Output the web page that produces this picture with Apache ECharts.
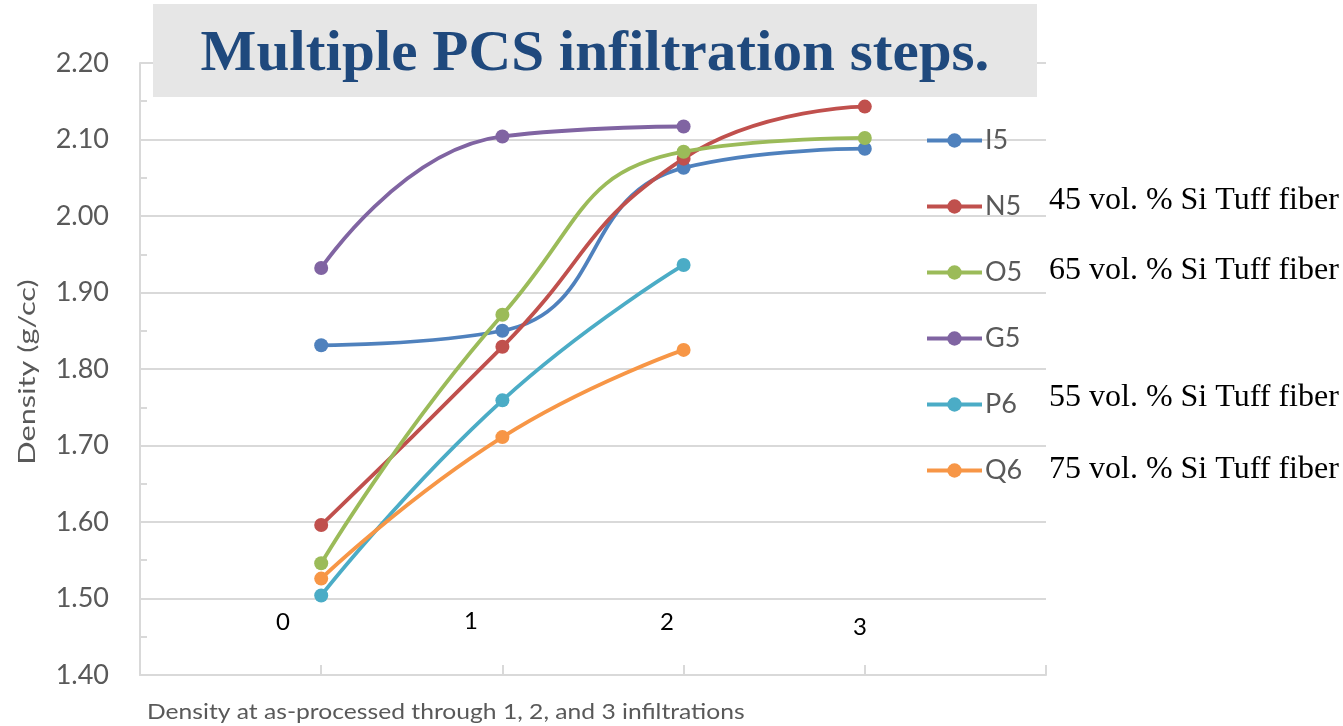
<!DOCTYPE html>
<html>
<head>
<meta charset="utf-8">
<script src="https://cdn.jsdelivr.net/npm/echarts@6/dist/echarts.min.js"></script>
<style>html,body{margin:0;padding:0;background:#fff;}#chart{width:1343px;height:726px;}</style>
</head>
<body>
<div id="chart"></div>
<script>
// x positions: infiltration step (0..3)
const steps = [0, 1, 2, 3];
const seriesNames = ['I5', 'N5', 'O5', 'G5', 'P6', 'Q6'];
const I5 = [1.831, 1.850, 2.063, 2.088];
const N5 = [1.596, 1.829, 2.075, 2.143];
const O5 = [1.546, 1.871, 2.084, 2.102];
const G5 = [1.932, 2.104, 2.117];
const P6 = [1.504, 1.759, 1.936];
const Q6 = [1.526, 1.711, 1.825];
const yTicks = ['1.40','1.50','1.60','1.70','1.80','1.90','2.00','2.10','2.20'];
const stepLabels = ['0', '1', '2', '3'];
const annotations = ['45 vol. % Si Tuff fiber', '65 vol. % Si Tuff fiber', '55 vol. % Si Tuff fiber', '75 vol. % Si Tuff fiber'];
const titleText = 'Multiple PCS infiltration steps.';
const yTitle = 'Density (g/cc)';
const xTitle = 'Density at as-processed through 1, 2, and 3 infiltrations';

const values = [I5, N5, O5, G5, P6, Q6];
const colors = ['#4F81BD', '#C0504D', '#9BBB59', '#8064A2', '#4BACC6', '#F79646'];
const font = 'Lato, "Noto Sans", sans-serif';

const chart = echarts.init(document.getElementById('chart'));
const series = seriesNames.map((name, i) => ({
  name: name,
  type: 'line',
  smooth: 0.5,
  symbol: 'circle',
  symbolSize: 14,
  data: values[i].map((v, j) => [steps[j], v]),
  itemStyle: { color: colors[i] },
  lineStyle: { width: 3.8, color: colors[i] },
  emphasis: { disabled: true }
}));

// annotation y positions (pixel), aligned to legend rows
const annY = [201, 271, 398, 470];
const labelPos = [[283, 622], [471, 621], [667, 622], [860, 627]];

const graphics = [
  { type: 'rect', z: 100, shape: { x: 153, y: 4, width: 884, height: 93 }, style: { fill: '#E6E6E6' } },
  { type: 'text', z: 101, style: { text: titleText, x: 0, y: 0, align: 'center', verticalAlign: 'middle',
      font: 'bold 58px "Liberation Serif", "DejaVu Serif", serif', fill: '#1F497D' }, x: 595, y: 55, scaleX: 1.02 },
  { type: 'text', z: 101, style: { text: yTitle, x: 0, y: 0, align: 'center', verticalAlign: 'middle',
      font: '24px ' + font, fill: '#595959' }, x: 27, y: 372, rotation: Math.PI / 2, scaleX: 1.28 },
  { type: 'text', z: 101, style: { text: xTitle, x: 0, y: 0, align: 'left', verticalAlign: 'middle',
      font: '22px ' + font, fill: '#595959' }, x: 147, y: 712, scaleX: 1.12 }
];
annotations.forEach((t, i) => {
  graphics.push({ type: 'text', z: 101, style: { text: t, x: 1049, y: annY[i], align: 'left', verticalAlign: 'middle',
    font: '32px "Liberation Serif", "DejaVu Serif", serif', fill: '#000' } });
});
stepLabels.forEach((t, i) => {
  graphics.push({ type: 'text', z: 101, style: { text: t, x: labelPos[i][0], y: labelPos[i][1], align: 'center', verticalAlign: 'middle',
    font: '24px ' + font, fill: '#000' } });
});

chart.setOption({
  animation: false,
  backgroundColor: '#fff',
  color: colors,
  grid: { left: 140, right: 297, top: 63, bottom: 51, containLabel: false },
  xAxis: {
    type: 'value', min: -1, max: 4, interval: 1,
    axisLine: { show: true, onZero: false, lineStyle: { color: '#D9D9D9', width: 2 } },
    axisTick: { show: true, inside: true, length: 10, lineStyle: { color: '#D9D9D9', width: 2 } },
    axisLabel: { show: false },
    splitLine: { show: false }
  },
  yAxis: {
    type: 'value', min: 1.4, max: 2.2, interval: 0.1,
    axisLine: { show: true, onZero: false, lineStyle: { color: '#D9D9D9', width: 2 } },
    axisTick: { show: true, inside: true, length: 13, lineStyle: { color: '#D9D9D9', width: 2 } },
    minorTick: { show: true, splitNumber: 2, length: 7, lineStyle: { color: '#D9D9D9', width: 2 } },
    axisLabel: { margin: 31, fontFamily: font, fontSize: 27, color: '#595959',
      formatter: (v) => { const s = v.toFixed(2); return yTicks.includes(s) ? s : ''; } },
    splitLine: { show: true, lineStyle: { color: '#D9D9D9', width: 2 } }
  },
  legend: {
    orient: 'vertical', left: 925, top: 127, padding: 0,
    itemWidth: 55, itemHeight: 18, itemGap: 39,
    data: seriesNames,
    lineStyle: { width: 4 },
    textStyle: { fontFamily: font, fontSize: 27, color: '#595959', lineHeight: 27, padding: [0, 0, 0, -2] },
    selectedMode: false
  },
  graphic: graphics,
  series: series
});
</script>
</body>
</html>
